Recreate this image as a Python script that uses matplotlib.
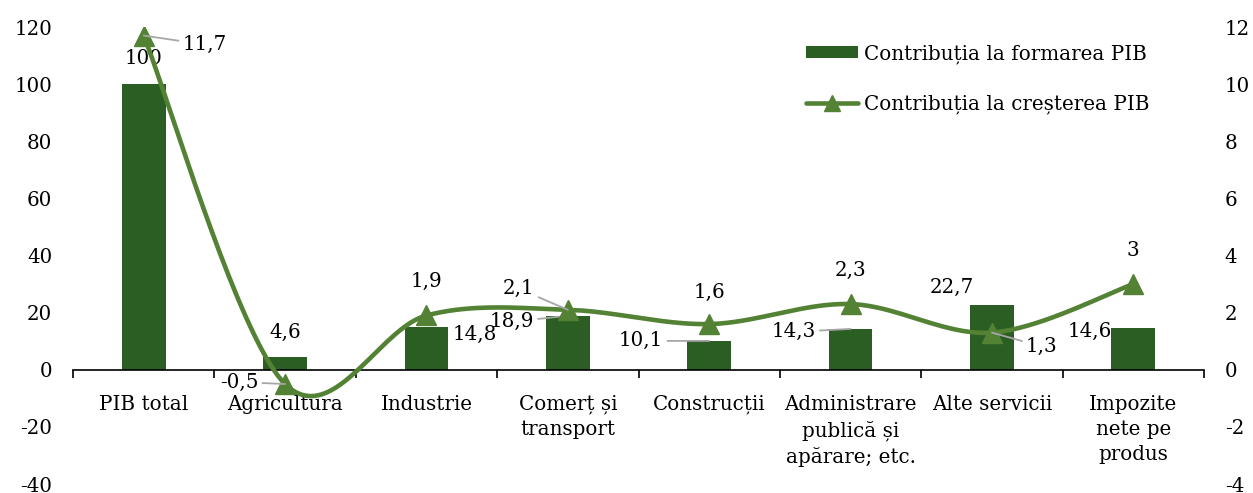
import numpy as np
import matplotlib.pyplot as plt
from matplotlib.patches import Patch
from matplotlib.lines import Line2D

plt.rcParams['font.family'] = ['DejaVu Serif']
plt.rcParams['axes.unicode_minus'] = False

categorii = ["PIB total", "Agricultura", "Industrie", "Comerț și\ntransport", "Construcții",
             "Administrare\npublică și\napărare; etc.", "Alte servicii", "Impozite\nnete pe\nprodus"]
formare = [100, 4.6, 14.8, 18.9, 10.1, 14.3, 22.7, 14.6]
crestere = [11.7, -0.5, 1.9, 2.1, 1.6, 2.3, 1.3, 3]

# pozitia etichetelor (offset in pixeli) si daca au linie de legatura
off_bare = [(0, 26), (0, 24), (48, -7), (-56, -6), (-68, 0), (-57, -3), (-40, 18), (-43, -3)]
leg_bare = [False, False, False, True, True, True, False, False]
off_linie = [(61, -9), (-46, 2), (0, 34), (-49, 21), (0, 32), (0, 34), (50, -14), (0, 34)]
leg_linie = [True, True, False, True, False, False, True, False]

C_BARA = "#2A5E23"
C_LINIE = "#548235"
C_LEG = "#A6A6A6"
FS = 14.3


def fmt(v):
    s = ("%g" % v).replace(".", ",")
    return s


def spline_excel(x, y, n=40):
    # curba netezita tip Catmull-Rom (ca in Excel)
    x = np.asarray(x, float)
    y = np.asarray(y, float)
    px = np.concatenate([[x[0]], x, [x[-1]]])
    py = np.concatenate([[y[0]], y, [y[-1]]])
    xs, ys = [], []
    t = np.linspace(0, 1, n)
    for i in range(1, len(px) - 2):
        x0, x1 = px[i], px[i + 1]
        y0, y1 = py[i], py[i + 1]
        cx1 = x0 + (px[i + 1] - px[i - 1]) / 6
        cy1 = y0 + (py[i + 1] - py[i - 1]) / 6
        cx2 = x1 - (px[i + 2] - px[i]) / 6
        cy2 = y1 - (py[i + 2] - py[i]) / 6
        bx = (1 - t) ** 3 * x0 + 3 * (1 - t) ** 2 * t * cx1 + 3 * (1 - t) * t ** 2 * cx2 + t ** 3 * x1
        by = (1 - t) ** 3 * y0 + 3 * (1 - t) ** 2 * t * cy1 + 3 * (1 - t) * t ** 2 * cy2 + t ** 3 * y1
        xs.extend(bx)
        ys.extend(by)
    return np.array(xs), np.array(ys)


fig = plt.figure(figsize=(12.53, 4.93), dpi=100)
ax = fig.add_axes([73 / 1253, 1 - 484 / 493, (1204 - 73) / 1253, (484 - 27) / 493])
ax2 = ax.twinx()

x = np.arange(len(categorii))
ax.bar(x, formare, width=0.31, color=C_BARA, zorder=2)

ax.set_xlim(-0.5, len(categorii) - 0.5)
ax.set_ylim(-40, 120)
ax.set_yticks(np.arange(-40, 121, 20))
ax2.set_ylim(-4, 12)
ax2.set_yticks(np.arange(-4, 13, 2))

for s in ["left", "right", "top"]:
    ax.spines[s].set_visible(False)
    ax2.spines[s].set_visible(False)
ax2.spines["bottom"].set_visible(False)
ax.spines["bottom"].set_position(("data", 0))
ax.spines["bottom"].set_linewidth(1.2)

ax.set_xticks(x)
ax.set_xticklabels(categorii, fontsize=FS, linespacing=1.4)
ax.set_xticks(np.arange(-0.5, len(categorii)), minor=True)
ax.tick_params(axis="x", which="major", length=0, pad=18)
ax.tick_params(axis="x", which="minor", length=6, width=1.2, direction="out")
ax.tick_params(axis="y", length=0, pad=15, labelsize=FS)
ax2.tick_params(axis="y", length=0, pad=15, labelsize=FS)

xs, ys = spline_excel(x, crestere)
ax2.plot(xs, ys, color=C_LINIE, lw=3.3, zorder=3, solid_capstyle="round")
ax2.plot(x, crestere, ls="none", marker="^", ms=15, color=C_LINIE, zorder=4)

for i, v in enumerate(formare):
    ap = dict(arrowstyle="-", color=C_LEG, lw=1.3, shrinkA=1, shrinkB=0) if leg_bare[i] else None
    ax.annotate(fmt(v), xy=(i, v), xytext=off_bare[i], textcoords="offset pixels",
                ha="center", va="center", fontsize=FS, arrowprops=ap, zorder=5)

for i, v in enumerate(crestere):
    ap = dict(arrowstyle="-", color=C_LEG, lw=1.3, shrinkA=1, shrinkB=0) if leg_linie[i] else None
    ax2.annotate(fmt(v), xy=(i, v), xytext=off_linie[i], textcoords="offset pixels",
                 ha="center", va="center", fontsize=FS, arrowprops=ap, zorder=5)

h1 = Patch(facecolor=C_BARA, edgecolor="none")
h2 = Line2D([], [], color=C_LINIE, lw=3.3, marker="^", ms=11, solid_capstyle="round")
fig.legend([h1, h2], ["Contribuția la formarea PIB", "Contribuția la creșterea PIB"],
           loc="upper left", bbox_to_anchor=(806 / 1253, 1 - 44 / 493), frameon=False,
           fontsize=FS, handlelength=2.6, handleheight=0.5, handletextpad=0.3,
           labelspacing=1.55, borderpad=0, borderaxespad=0)

fig.savefig("out.png", dpi=100)
